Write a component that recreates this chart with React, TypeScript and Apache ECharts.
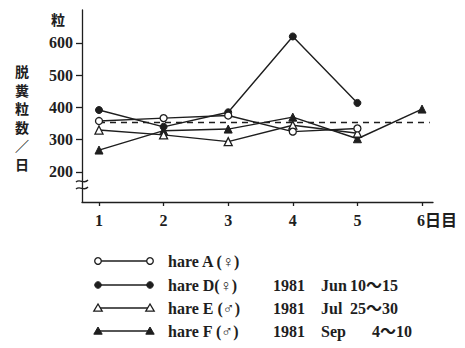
import React, { useEffect, useRef } from "react";
import * as echarts from "echarts";

const days = [1, 2, 3, 4, 5, 6];
const hareA = [358, 367, 375, 325, 335];
const hareD = [392, 340, 385, 620, 414];
const hareE = [330, 315, 294, 345, 320];
const hareF = [268, 328, 333, 370, 303, 395];
const meanValue = 355;
const yTicks = [200, 300, 400, 500, 600];
const xTickLabels = ["1", "2", "3", "4", "5", "6日目"];
const yAxisUnit = "粒";
const yAxisTitle = ["脱", "糞", "粒", "数", "／", "日"];
const legendNames = ["hare A (♀)", "hare D(♀)", "hare E (♂)", "hare F (♂)"];
const legendYears = ["", "1981", "1981", "1981"];
const legendMonths = ["", "Jun", "Jul", "Sep"];
const legendDays = ["", "10～15", "25～30", "4～10"];

const SERIF = "'Liberation Serif', 'DejaVu Serif', 'Noto Sans CJK JP', serif";
const CJK = "'Noto Sans CJK JP', sans-serif";
const INK = "#1e1e1e";

const toPairs = (vals: number[]) => vals.map((v, i) => [days[i], v]);

export default function App() {
  const ref = useRef<HTMLDivElement>(null);
  useEffect(() => {
    document.body.style.margin = "0";
    if (!ref.current) return;
    const chart = echarts.init(ref.current, null, { renderer: "svg" });

    const mk = (name: string, vals: number[], symbol: string, hollow: boolean, z: number) => ({
      name,
      type: "line",
      data: toPairs(vals),
      symbol,
      symbolSize: symbol === "triangle" ? 8 : 7,
      z,
      lineStyle: { color: INK, width: 1.4 },
      itemStyle: hollow
        ? { color: "#ffffff", borderColor: INK, borderWidth: 1.3 }
        : { color: INK, borderColor: INK, borderWidth: 1 },
      emphasis: { disabled: true },
    });

    const legendRowsY = [261, 285, 308, 331];
    const legendSymbols = [
      { shape: "circle", hollow: true },
      { shape: "circle", hollow: false },
      { shape: "triangle", hollow: true },
      { shape: "triangle", hollow: false },
    ];
    const graphics: any[] = [];
    legendRowsY.forEach((y, i) => {
      graphics.push({
        type: "line",
        shape: { x1: 98, y1: y, x2: 150, y2: y },
        style: { stroke: INK, lineWidth: 1.3 },
      });
      [98, 150].forEach((cx) => {
        const s = legendSymbols[i];
        const style = s.hollow
          ? { fill: "#fff", stroke: INK, lineWidth: 1.3 }
          : { fill: INK, stroke: INK, lineWidth: 1 };
        if (s.shape === "circle") {
          graphics.push({ type: "circle", shape: { cx, cy: y, r: 3.3 }, style, z: 10 });
        } else {
          graphics.push({
            type: "polygon",
            shape: { points: [[cx, y - 4], [cx - 4.2, y + 3.2], [cx + 4.2, y + 3.2]] },
            style,
            z: 10,
          });
        }
      });
      const txt = (t: string, x: number) =>
        graphics.push({
          type: "text",
          x,
          y,
          style: {
            text: t,
            font: `bold 16px ${SERIF}`,
            fill: INK,
            verticalAlign: "middle",
            align: "left",
          },
        });
      txt(legendNames[i], 168);
      if (legendYears[i]) txt(legendYears[i], 273);
      if (legendMonths[i]) txt(legendMonths[i], 321);
      if (legendDays[i]) txt(legendDays[i], i === 3 ? 372 : 350);
    });

    // axis unit and vertical title
    graphics.push({
      type: "text",
      x: 58,
      y: 19,
      style: { text: yAxisUnit, font: `bold 14px ${CJK}`, fill: INK, align: "center", verticalAlign: "middle" },
    });
    yAxisTitle.forEach((ch, i) => {
      graphics.push({
        type: "text",
        x: 22,
        y: 71 + i * 18.5,
        style: { text: ch, font: `bold 14px ${CJK}`, fill: INK, align: "center", verticalAlign: "middle" },
      });
    });
    // axis break marks
    [181, 188].forEach((by) => {
      graphics.push({
        type: "bezierCurve",
        shape: { x1: 76, y1: by + 1, cpx1: 80, cpy1: by - 3, cpx2: 84, cpy2: by + 4, x2: 88, y2: by - 1 },
        style: { stroke: INK, lineWidth: 1.3, fill: null },
        z: 20,
      });
    });

    chart.setOption({
      animation: false,
      grid: { left: 82, top: 10, right: 32, bottom: 146, containLabel: false },
      xAxis: {
        type: "value",
        min: 0.737,
        max: 6.17,
        splitLine: { show: false },
        axisLine: { lineStyle: { color: INK, width: 1.3 } },
        axisTick: { customValues: days, length: 4, lineStyle: { color: INK, width: 1.3 } },
        axisLabel: {
          customValues: days,
          margin: 10,
          formatter: (v: number) => {
            const idx = days.indexOf(Math.round(v));
            const t = xTickLabels[idx] ?? "";
            return idx === days.length - 1 ? `{p|}{l|${t}}` : t;
          },
          rich: {
            p: { width: 30, height: 16 },
            l: { fontFamily: SERIF, fontSize: 16, fontWeight: "bold", color: INK },
          },
          color: INK,
          fontFamily: SERIF,
          fontSize: 16,
          fontWeight: "bold",
        },
      },
      yAxis: {
        type: "value",
        min: 107,
        max: 702,
        splitLine: { show: false },
        axisLine: { show: true, lineStyle: { color: INK, width: 1.3 } },
        axisTick: { show: true, customValues: yTicks, length: 6, lineStyle: { color: INK, width: 1.3 } },
        axisLabel: {
          customValues: yTicks,
          margin: 9,
          color: INK,
          fontFamily: SERIF,
          fontSize: 16,
          fontWeight: "bold",
        },
      },
      series: [
        {
          ...mk("hare F", hareF, "triangle", false, 3),
          markLine: {
            silent: true,
            symbol: "none",
            label: { show: false },
            lineStyle: { type: [6, 5], color: INK, width: 1.3 },
            data: [[{ coord: [1, meanValue] }, { coord: [6.12, meanValue] }]],
          },
        },
        mk("hare D", hareD, "circle", false, 4),
        mk("hare E", hareE, "triangle", true, 5),
        mk("hare A", hareA, "circle", true, 6),
      ],
      graphic: graphics,
    });
    return () => chart.dispose();
  }, []);
  return <div ref={ref} style={{ width: 465, height: 348 }} />;
}
